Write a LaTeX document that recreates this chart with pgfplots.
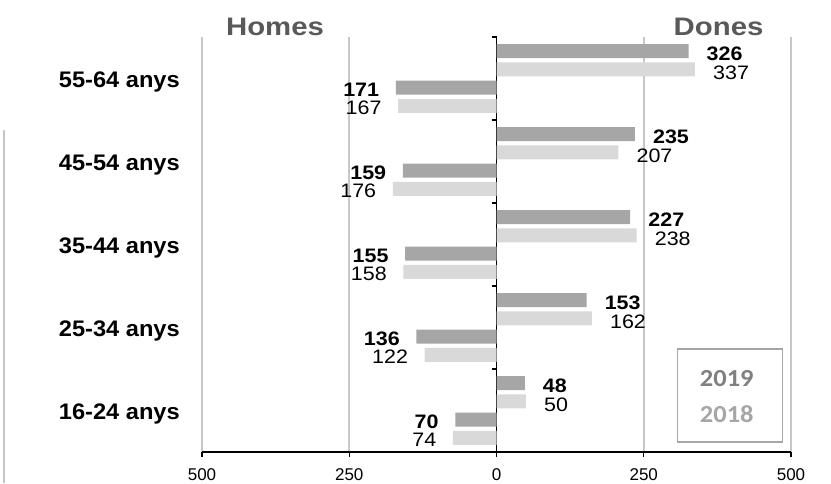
\documentclass[border=0pt]{standalone}
\usepackage{pgfplots}
\pgfplotsset{compat=1.18}
\usepackage{pgfplotstable}
\usepackage{fontspec}
\setmainfont{Liberation Sans}
\newfontfamily\valfont{Liberation Sans}[FakeStretch=1.1]
\newfontfamily\catfont{Liberation Sans}[FakeStretch=1.05]
\newfontfamily\titfont{Liberation Sans}[FakeStretch=1.16]
\newfontfamily\legfont{Carlito}[FakeStretch=1.08]
\definecolor{bar19}{HTML}{A6A6A6}
\definecolor{bar18}{HTML}{D9D9D9}
\definecolor{gridc}{HTML}{C8C8C8}
\definecolor{titlec}{HTML}{595959}
\definecolor{leg19}{HTML}{808080}
\definecolor{leg18}{HTML}{A6A6A6}

% one table per series: y = band (0 = 16-24 anys ... 4 = 55-64 anys), v = value
\pgfplotstableread{
y v
0 48
1 153
2 227
3 235
4 326
}\donesA
\pgfplotstableread{
y v
0 50
1 162
2 238
3 207
4 337
}\donesB
\pgfplotstableread{
y v
0 70
1 136
2 155
3 159
4 171
}\homesA
\pgfplotstableread{
y v
0 74
1 122
2 158
3 176
4 167
}\homesB

\begin{document}
\begin{tikzpicture}[x=1pt,y=1pt]
\useasboundingbox (0,0) rectangle (831,483);
\draw[gridc, line width=2pt] (4,0) -- (4,353);
\begin{axis}[
  at={(202pt,31pt)}, anchor=south west,
  scale only axis, width=589pt, height=415pt,
  xmin=-500, xmax=500, ymin=0, ymax=5,
  axis x line=bottom, axis y line=middle,
  axis line style={black, line width=1.3pt, -},
  xtick={-500,-250,0,250,500},
  xticklabels={500,250,0,250,500},
  ytick={1,2,3,4,5}, yticklabels={},
  tick align=outside, major tick length=5pt,
  tick style={black, line width=1.3pt},
  xmajorgrids, grid style={gridc, line width=1.8pt},
  xticklabel style={font=\fontsize{17}{17}\selectfont, anchor=north, inner sep=0pt, yshift=-11pt},
  /pgf/number format/assume math mode=true,
  xbar, bar width=14pt, bar shift=0pt,
  point meta=explicit,
  nodes near coords,
  clip=false,
]
\addplot[fill=bar19, draw=none, every node near coord/.style={font=\valfont\fontsize{19.5}{19.5}\selectfont\bfseries, anchor=west, inner sep=0pt, xshift=18pt, yshift=-3pt}]
  table[x=v, y expr=\thisrow{y}+0.83, meta=v] {\donesA};
\addplot[fill=bar18, draw=none, every node near coord/.style={font=\valfont\fontsize{19.5}{19.5}\selectfont, anchor=west, inner sep=0pt, xshift=18pt, yshift=-3pt}]
  table[x=v, y expr=\thisrow{y}+0.61, meta=v] {\donesB};
\addplot[fill=bar19, draw=none, every node near coord/.style={font=\valfont\fontsize{19.5}{19.5}\selectfont\bfseries, anchor=east, inner sep=0pt, xshift=-16.5pt, yshift=-2pt}]
  table[x expr=-\thisrow{v}, y expr=\thisrow{y}+0.39, meta=v] {\homesA};
\addplot[fill=bar18, draw=none, every node near coord/.style={font=\valfont\fontsize{19.5}{19.5}\selectfont, anchor=east, inner sep=0pt, xshift=-16.5pt, yshift=-2pt}]
  table[x expr=-\thisrow{v}, y expr=\thisrow{y}+0.17, meta=v] {\homesB};

% category labels
\tikzset{catlab/.style={anchor=base east, inner sep=0pt, font=\catfont\fontsize{22.5}{22.5}\selectfont\bfseries, yshift=-8.5pt, xshift=-22pt}}
\node[catlab] at (axis cs:-500,4.5) {55-64 anys};
\node[catlab] at (axis cs:-500,3.5) {45-54 anys};
\node[catlab] at (axis cs:-500,2.5) {35-44 anys};
\node[catlab] at (axis cs:-500,1.5) {25-34 anys};
\node[catlab] at (axis cs:-500,0.5) {16-24 anys};
% titles
\node[anchor=base, inner sep=0pt, font=\titfont\fontsize{25.3}{25.3}\selectfont\bfseries, text=titlec, yshift=1.5pt] at (axis cs:-376,5) {Homes};
\node[anchor=base, inner sep=0pt, font=\titfont\fontsize{25.3}{25.3}\selectfont\bfseries, text=titlec, yshift=1.5pt] at (axis cs:377,5) {Dones};
% legend
\draw[leg18, line width=1.3pt, fill=white] (axis cs:307,0.12) rectangle (axis cs:485.6,1.24);
\node[font=\legfont\fontsize{24.5}{24.5}\selectfont\bfseries, text=leg19, inner sep=0pt] at (axis cs:391,0.88) {2019};
\node[font=\legfont\fontsize{24.5}{24.5}\selectfont\bfseries, text=leg18, inner sep=0pt] at (axis cs:391,0.46) {2018};
\end{axis}
\end{tikzpicture}
\end{document}
